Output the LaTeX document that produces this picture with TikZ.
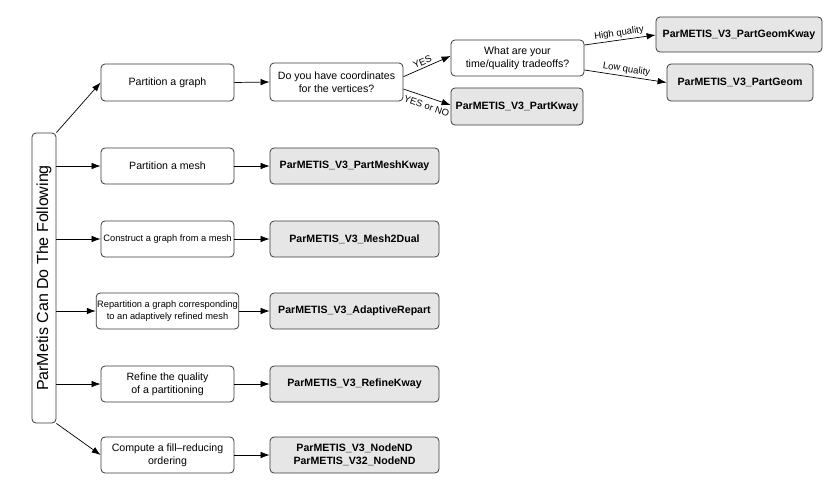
\documentclass[tikz,border=0pt]{standalone}
\usepackage{fontspec}
\setmainfont{Liberation Sans}
\usetikzlibrary{arrows.meta}
\definecolor{edgegray}{HTML}{3A3A3A}
\definecolor{boxfill}{HTML}{E6E6E6}
\tikzset{
  box/.style={draw=edgegray, line width=0.8pt, rounded corners=4pt, fill=white,
    align=center, inner sep=1pt, font=\fontsize{10.6}{12.7}\selectfont},
  midbox/.style={box, minimum width=133pt, minimum height=36pt},
  smalltext/.style={font=\fontsize{9.3}{11.3}\selectfont},
  resbox/.style={box, fill=boxfill, font=\fontsize{10.6}{12.7}\selectfont\bfseries, minimum height=36pt},
  conn/.style={draw=black, line width=0.7pt, -{Latex[length=9pt,width=6.5pt]}},
  lbl/.style={font=\fontsize{9.5}{11}\selectfont, sloped, inner sep=2pt}
}
\begin{document}
\begin{tikzpicture}[x=1pt,y=-1pt]
\useasboundingbox (0,0) rectangle (839,496);
% left box
\node[box, minimum width=24pt, minimum height=290pt] (L) at (44,278) {};
\node[rotate=90, font=\fontsize{16}{18}\selectfont, inner sep=0pt] (Ltxt) at (L.center) {ParMetis Can Do The Following};
% middle column
\node[midbox, minimum height=37pt] (g) at (167.5,82.5) {Partition a graph};
\node[midbox] (m) at (167.5,166) {Partition a mesh};
\node[midbox, smalltext] (cg) at (167.5,239) {Construct a graph from a mesh};
\node[midbox, smalltext] (rp) at (167.5,311) {Repartition a graph corresponding\\to an adaptively refined mesh};
\node[midbox] (rf) at (167.5,384) {Refine the quality\\of a partitioning};
\node[midbox] (co) at (167.5,455) {Compute a fill--reducing\\ordering};
% right column
\node[resbox, minimum width=169pt] (rm) at (354.5,166) {ParMETIS\_V3\_PartMeshKway};
\node[resbox, minimum width=169pt] (rd) at (354.5,239) {ParMETIS\_V3\_Mesh2Dual};
\node[resbox, minimum width=169pt] (ra) at (354.5,311) {ParMETIS\_V3\_AdaptiveRepart};
\node[resbox, minimum width=169pt] (rr) at (354.5,384) {ParMETIS\_V3\_RefineKway};
\node[resbox, minimum width=169pt] (rn) at (354.5,455) {ParMETIS\_V3\_NodeND\\ParMETIS\_V32\_NodeND};
% graph branch
\node[midbox, minimum height=38pt] (do) at (336.5,82) {Do you have coordinates\\for the vertices?};
\node[midbox] (wh) at (517.5,58) {What are your\\time/quality tradeoffs?};
\node[resbox, minimum width=132pt, minimum height=37pt] (pk) at (517,106.5) {ParMETIS\_V3\_PartKway};
\node[resbox, minimum width=166pt, minimum height=35pt] (pgk) at (739,34.5) {ParMETIS\_V3\_PartGeomKway};
\node[resbox, minimum width=146pt, minimum height=37pt] (pg) at (740,82.5) {ParMETIS\_V3\_PartGeom};
% connectors from left box
\draw[conn] (L.north east) -- (g.west);
\draw[conn] (L.east |- m.west) -- (m.west);
\draw[conn] (L.east |- cg.west) -- (cg.west);
\draw[conn] (L.east |- rp.west) -- (rp.west);
\draw[conn] (L.east |- rf.west) -- (rf.west);
\draw[conn] (L.south east) -- (co.west);
% middle to right
\draw[conn] (g.east) -- (do.west);
\draw[conn] (m.east) -- (rm.west);
\draw[conn] (cg.east) -- (rd.west);
\draw[conn] (rp.east) -- (ra.west);
\draw[conn] (rf.east) -- (rr.west);
\draw[conn] (co.east) -- (rn.west);
% decision branches
\draw[conn] ([yshift=5.3pt]do.east) -- node[lbl, above, pos=0.45] {YES} ([yshift=2pt]wh.west);
\draw[conn] ([yshift=-7pt]do.east) -- node[lbl, below=3pt, pos=0.55] {YES or NO} ([yshift=1.5pt]pk.west);
\draw[conn] ([yshift=13pt]wh.east) -- node[lbl, above] {High quality} ([yshift=-0.5pt]pgk.west);
\draw[conn] ([yshift=-12pt]wh.east) -- node[lbl, above] {Low quality} (pg.west);
\end{tikzpicture}
\end{document}
